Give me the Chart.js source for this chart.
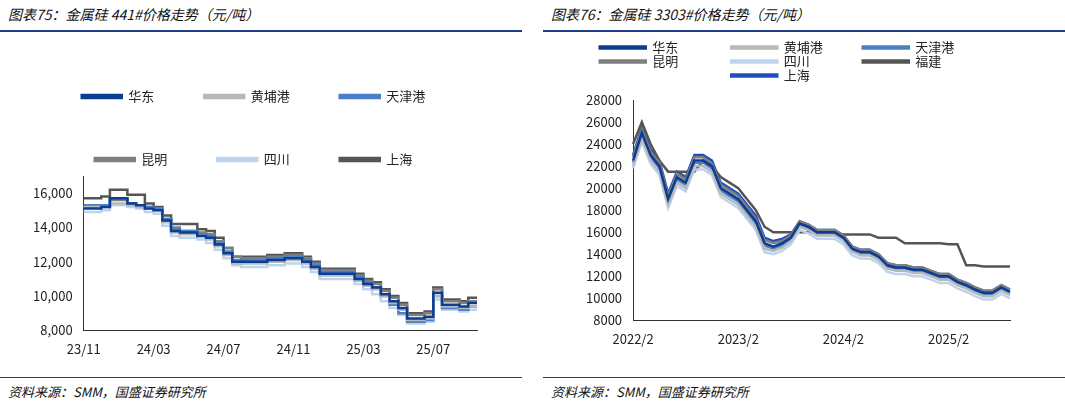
<!DOCTYPE html>
<html><head><meta charset="utf-8">
<script src="https://cdn.jsdelivr.net/npm/chart.js@4"></script>
<style>
body{margin:0;background:#fff;font-family:"Noto Sans CJK SC",sans-serif;}
.panel{position:absolute;top:0;width:522px;height:406px;}
.title{position:absolute;left:8px;top:4px;font-size:14px;font-style:italic;color:#111;}
.rule{position:absolute;left:0;right:0;height:2px;background:#1f3c88;}
.src{position:absolute;left:8px;top:382px;font-size:13px;font-style:italic;color:#111;}
.box{position:absolute;left:0;top:40px;width:522px;height:320px;}
</style></head><body>
<div class="panel" style="left:0">
 <div class="title">图表75：金属硅 441#价格走势（元/吨）</div>
 <div class="rule" style="top:30px"></div>
 <div class="box"><canvas id="c1"></canvas></div>
 <div class="rule" style="top:377px;height:1px"></div>
 <div class="src">资料来源：SMM，国盛证券研究所</div>
</div>
<div class="panel" style="left:543px">
 <div class="title">图表76：金属硅 3303#价格走势（元/吨）</div>
 <div class="rule" style="top:30px"></div>
 <div class="box"><canvas id="c2"></canvas></div>
 <div class="rule" style="top:377px;height:1px"></div>
 <div class="src">资料来源：SMM，国盛证券研究所</div>
</div>
<script>
// 441# semi-monthly, 23/11 .. 25/10
const labels441 = ['23/11','','','','','','','','24/03','','','','','','','','24/07','','','','','','','','24/11','','','','','','','','25/03','','','','','','','','25/07','','','','',''];
const huadong441 = [15100,15100,15200,15700,15700,15400,15300,15100,15000,14400,13800,13700,13700,13500,13400,13000,12500,12000,12000,12000,12000,12100,12100,12200,12200,12000,11700,11300,11300,11300,11300,11000,10700,10500,10100,9700,9300,8700,8700,8800,10200,9500,9500,9400,9600,9600];
const huangpu441 = [15200,15200,15200,15400,15400,15300,15200,15100,15000,14300,13700,13600,13600,13500,13300,12900,12400,11900,11900,11900,11900,12000,12000,12100,12100,11900,11600,11200,11200,11200,11200,10900,10600,10400,10000,9600,9200,8600,8600,8700,10000,9400,9400,9300,9400,9400];
const tianjin441 = [15300,15300,15300,15700,15700,15400,15300,15200,15100,14500,13900,13800,13800,13600,13500,13100,12600,12100,12100,12100,12100,12200,12200,12300,12300,12100,11800,11400,11400,11400,11400,11100,10800,10500,10000,9500,9000,8500,8500,8600,10000,9300,9300,9200,9400,9400];
const kunming441 = [15200,15200,15300,15600,15600,15400,15300,15200,15100,14500,14000,13800,13800,13700,13600,13200,12800,12300,12200,12200,12200,12300,12300,12400,12400,12200,11900,11500,11500,11500,11500,11200,10900,10700,10300,9900,9500,8900,8900,9000,10400,9700,9700,9600,9700,9700];
const sichuan441 = [14900,14900,15000,15300,15300,15200,15100,14900,14800,14100,13500,13400,13400,13300,13100,12700,12200,11800,11700,11700,11700,11800,11800,11900,11900,11700,11400,11000,11000,11000,11000,10700,10400,10100,9700,9300,8900,8400,8400,8500,9800,9200,9200,9100,9200,9200];
const shanghai441 = [15700,15700,15800,16200,16200,15900,15900,15400,15200,14700,14200,14200,14200,13900,13800,13400,12800,12300,12300,12300,12300,12400,12400,12500,12500,12300,12000,11600,11600,11600,11600,11300,11000,10800,10400,10000,9600,9000,9000,9100,10500,9800,9800,9700,9900,9900];

// 3303# monthly, 2022/2 .. 2025/9
const labels3303 = ['2022/2','','','','','','','','','','','','2023/2','','','','','','','','','','','','2024/2','','','','','','','','','','','','2025/2','','','','','','',''];
const huadong3303 = [22500,25000,23000,22000,19000,21000,20500,22500,22500,22000,20000,19500,19000,18000,17000,15000,14700,15000,15500,16800,16500,16000,16000,16000,15500,14500,14200,14200,13800,13000,12800,12800,12600,12600,12300,12000,12000,11500,11200,10800,10500,10500,11000,10600];
const huangpu3303 = [22000,24500,22500,21500,18500,20500,20000,22000,22000,21500,19500,19000,18500,17500,16500,14500,14300,14600,15200,16500,16200,15700,15700,15700,15200,14200,13900,13900,13500,12700,12500,12500,12300,12300,12000,11700,11700,11200,10900,10500,10200,10200,10700,10300];
const tianjin3303 = [22300,24800,22800,21800,18800,20800,20300,22300,22300,21800,19800,19300,18800,17800,16800,14800,14500,14800,15400,16700,16400,15900,15900,15900,15400,14400,14100,14100,13700,12900,12700,12700,12500,12500,12200,11900,11900,11400,11100,10700,10400,10400,10900,10500];
const kunming3303 = [22800,25300,23300,22300,19300,21300,20800,22800,22800,22200,20300,19800,19300,18300,17200,15300,15000,15200,15700,17000,16700,16200,16200,16200,15700,14700,14400,14400,14000,13200,13000,13000,12800,12800,12500,12200,12200,11700,11400,11000,10700,10700,11200,10800];
const sichuan3303 = [21800,24200,22200,21200,18200,20200,19700,21700,21700,21200,19200,18700,18200,17200,16200,14200,14000,14300,14900,16200,15900,15400,15400,15400,14900,13900,13600,13600,13200,12400,12200,12200,12000,12000,11700,11400,11400,10900,10600,10200,9900,9900,10400,10000];
const fujian3303 = [24000,26000,24000,22500,21500,21500,21500,21500,22500,22000,21000,20500,20000,19000,18000,16500,16000,16000,16000,16000,16000,16000,16000,15900,15800,15800,15800,15800,15500,15500,15500,15000,15000,15000,15000,15000,14900,14900,13000,13000,12900,12900,12900,12900];
const shanghai3303 = [23000,25500,23500,22500,19500,21500,21000,23000,23000,22500,20500,20000,19500,18500,17500,15500,15200,15400,15800,17000,16700,16200,16200,16200,15700,14700,14400,14400,14000,13200,13000,13000,12800,12800,12500,12200,12200,11700,11400,11000,10700,10700,11200,10800];

Chart.defaults.font.family = '"Noto Sans CJK SC", sans-serif';
Chart.defaults.color = '#222';
Chart.defaults.animation = false;

function ds(label, data, color, stepped) {
  return {label, data, borderColor: color, backgroundColor: color, borderWidth: 2.5, pointRadius: 0, stepped, tension: 0};
}
function opts(min, max, step, pad, legendPad) {
  return {
    responsive: true, maintainAspectRatio: false,
    layout: {padding: pad},
    plugins: {legend: {position: 'top', labels: {boxWidth: 40, boxHeight: 3, padding: legendPad, font: {size: 13}}}},
    scales: {
      x: {grid: {display: false}, border: {color: '#333'},
          ticks: {autoSkip: false, maxRotation: 0, font: {size: 13}}},
      y: {min, max, grid: {display: false}, border: {color: '#333'},
          ticks: {stepSize: step, font: {size: 13}, callback: v => v.toLocaleString('en-US')}}
    }
  };
}
new Chart(document.getElementById('c1'), {
  type: 'line',
  data: {labels: labels441, datasets: [
    ds('华东', huadong441, '#0b3d91', true), ds('黄埔港', huangpu441, '#b8b8b8', true), ds('天津港', tianjin441, '#4a7fc8', true),
    ds('昆明', kunming441, '#7f7f7f', true), ds('四川', sichuan441, '#bdd3ee', true), ds('上海', shanghai441, '#555555', true)]},
  options: opts(8000, 17000, 1000, {left: 30, right: 45, top: 0, bottom: 0}, 50)
});
const o2 = opts(8000, 28000, 2000, {left: 40, right: 55, top: 0, bottom: 10}, 50);
o2.scales.y.ticks.callback = v => v;
o2.plugins.legend.labels.padding = 1;
o2.plugins.legend.labels.font = {size: 13};
o2.plugins.legend.labels.boxWidth = 46;
o2.plugins.legend.labels.boxHeight = 2;
new Chart(document.getElementById('c2'), {
  type: 'line',
  data: {labels: labels3303, datasets: [
    ds('华东', huadong3303, '#0b3d91', false), ds('黄埔港', huangpu3303, '#b8b8b8', false), ds('天津港', tianjin3303, '#4a7fc8', false),
    ds('昆明', kunming3303, '#7f7f7f', false), ds('四川', sichuan3303, '#bdd3ee', false), ds('福建', fujian3303, '#555555', false),
    ds('上海', shanghai3303, '#1f4fbf', false)]},
  options: o2,
  plugins: [{id: 'legendGap', beforeInit(chart) {
    const fit = chart.legend.fit;
    chart.legend.fit = function () { fit.bind(chart.legend)(); this.height += 8; };
  }}]
});
// make right legend wrap 3 per row by widening text slots
Chart.getChart('c2').legend.options.labels.generateLabels = function (chart) {
  return Chart.defaults.plugins.legend.labels.generateLabels(chart).map(l => ({...l, text: l.text.padEnd(6, '\u3000')}));
};
Chart.getChart('c2').update();
</script>
</body></html>
